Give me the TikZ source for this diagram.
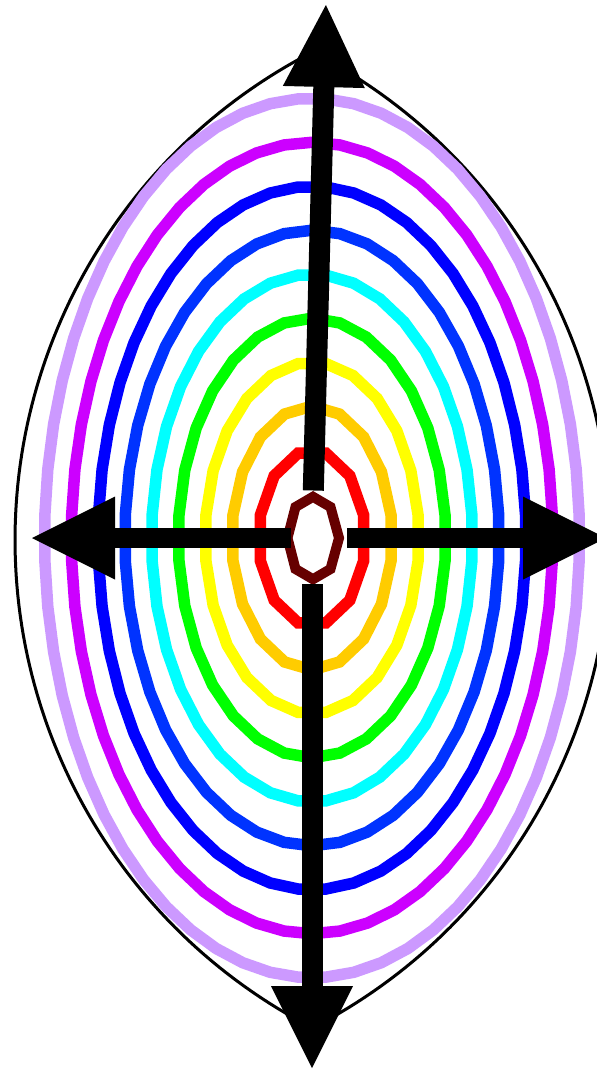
\documentclass[tikz,border=0pt]{standalone}
\usetikzlibrary{calc}
\definecolor{clilac}{HTML}{CC99FF}
\definecolor{cmagenta}{HTML}{CC00FF}
\definecolor{cblue}{HTML}{0000FF}
\definecolor{cblueb}{HTML}{0033FF}
\definecolor{ccyan}{HTML}{00FFFF}
\definecolor{cgreen}{HTML}{00FF00}
\definecolor{cyellow}{HTML}{FFFF00}
\definecolor{corange}{HTML}{FFCC00}
\definecolor{cred}{HTML}{FF0000}
\definecolor{cdark}{HTML}{660000}
\begin{document}
\begin{tikzpicture}[x=1pt,y=-1pt,
  ring/.style={line width=11.5pt},
  lensline/.style={line width=3pt, draw=black},
  shaft/.style={line width=21pt, draw=black, line cap=butt},
  hshaft/.style={line width=20pt, draw=black, line cap=butt},
  head/.style={fill=black}]
\useasboundingbox (0,0) rectangle (597,1071);
\clip (0,0) rectangle (597,1071);
% lens outline
\draw[lensline] plot[domain=-62.74:62.74, samples=120] ({564-549*cos(\x)},{540+549*sin(\x)})
  -- plot[domain=62.74:-62.74, samples=120] ({61+549*cos(\x)},{540+549*sin(\x)}) -- cycle;
% rings
\foreach \k/\col in {2/cred,3/corange,4/cyellow,5/cgreen,6/ccyan,7/cblueb,8/cblue,9/cmagenta,10/clilac}{
  \pgfmathtruncatemacro\ns{6*\k}
  \pgfmathsetmacro\dend{360-60/\k}
  \draw[ring,draw=\col] plot[domain=0:\dend, samples=\ns, variable=\t]
    ({312+26.75*\k*cos(\t+30/\k)},{538+43.97*\k*sin(\t+30/\k)}) -- cycle;
}
% innermost octagon
\draw[ring, line width=10pt, draw=cdark] (313,496.8) -- (330.5,507) -- (339,538) -- (330.5,569)
  -- (313,579.2) -- (295.5,569) -- (287.5,538) -- (295.5,507) -- cycle;
% arrow coordinates
\coordinate (upS) at (313.3,490.5);
\coordinate (upB) at (323.8,87);
\coordinate (upT) at (325.9,5);
\coordinate (dnS) at (312,584);
\coordinate (dnB) at (312,986);
\coordinate (dnT) at (312,1068);
\coordinate (lfS) at (290.5,538);
\coordinate (lfB) at (115,538);
\coordinate (lfT) at (32,538);
\coordinate (rtS) at (347,538);
\coordinate (rtB) at (523,538);
\coordinate (rtT) at (606,538);
% shafts
\draw[shaft] (upS) -- ($(upB)!2pt!(upT)$);
\draw[shaft] (dnS) -- ($(dnB)!2pt!(dnT)$);
\draw[hshaft] (lfS) -- ($(lfB)!2pt!(lfT)$);
\draw[hshaft] (rtS) -- ($(rtB)!2pt!(rtT)$);
% heads
\fill[head] (upT) -- ($(upB)!41pt!90:(upT)$) -- ($(upB)!41pt!-90:(upT)$) -- cycle;
\fill[head] (dnT) -- ($(dnB)!41pt!90:(dnT)$) -- ($(dnB)!41pt!-90:(dnT)$) -- cycle;
\fill[head] (lfT) -- ($(lfB)!41.5pt!90:(lfT)$) -- ($(lfB)!41.5pt!-90:(lfT)$) -- cycle;
\fill[head] (rtT) -- ($(rtB)!41.5pt!90:(rtT)$) -- ($(rtB)!41.5pt!-90:(rtT)$) -- cycle;
\end{tikzpicture}
\end{document}
